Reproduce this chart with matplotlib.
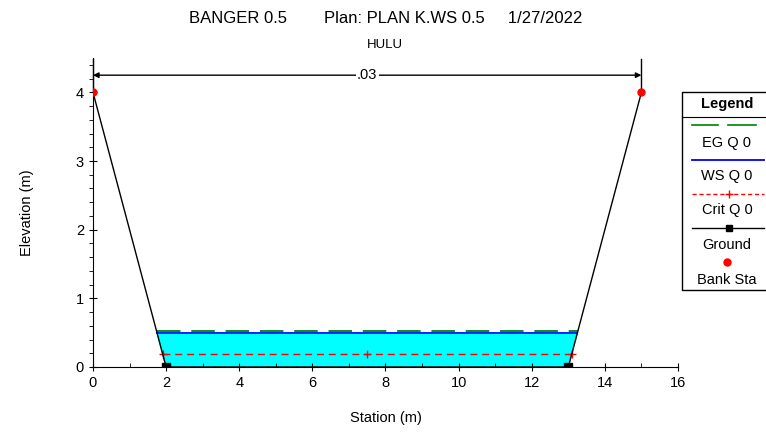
import matplotlib.pyplot as plt

plt.rcParams['font.family'] = ['Liberation Sans', 'DejaVu Sans']

# Cross-section data
ground_x = [0, 2, 13, 15]
ground_z = [4, 0, 0, 4]
bank_x = [0, 15]
bank_z = [4, 4]
ws_elev = 0.5
eg_elev = 0.52
crit_elev = 0.19
n_value = '.03'


def bank_station(z):
    # where a horizontal water level meets the side slopes
    left = ground_x[1] - (z - ground_z[1]) * (ground_x[1] - ground_x[0]) / (ground_z[0] - ground_z[1])
    right = ground_x[2] + (z - ground_z[2]) * (ground_x[3] - ground_x[2]) / (ground_z[3] - ground_z[2])
    return left, right


fig = plt.figure(figsize=(7.66, 4.32), dpi=100)
ax = fig.add_axes([0.1214, 0.1505, 0.7637, 0.7152])

# Water fill
wl, wr = bank_station(ws_elev)
ax.fill([wl, ground_x[1], ground_x[2], wr], [ws_elev, ground_z[1], ground_z[2], ws_elev],
        color='#00ffff', zorder=1)

# EG and WS lines
el, er = bank_station(eg_elev)
ax.plot([wl, wr], [ws_elev, ws_elev], color='#0000ff', lw=1.2, zorder=2)
ax.plot([el, er], [eg_elev, eg_elev], color='#008000', lw=1.3, dashes=(13, 6), zorder=3)

# Critical depth
cl, cr = bank_station(crit_elev)
ax.plot([cl, cr], [crit_elev, crit_elev], color='#ff0000', lw=1, dashes=(5, 3.5), zorder=3)
ax.plot([cl, (cl + cr) / 2, cr], [crit_elev] * 3, ls='none', marker='+', color='#ff0000',
        ms=6, mew=1, zorder=4)

# Ground
ax.plot(ground_x, ground_z, color='black', lw=1, zorder=4)
ax.plot(ground_x[1:3], ground_z[1:3], ls='none', marker='s', color='black', ms=6, zorder=5)
ax.plot(bank_x, bank_z, ls='none', marker='o', color='#ff0000', ms=5, zorder=6)

# Manning's n arrow
ax.plot([bank_x[0]] * 2, [4, 4.48], color='black', lw=1, clip_on=False)
ax.plot([bank_x[1]] * 2, [4, 4.48], color='black', lw=1, clip_on=False)
ax.annotate('', xy=(bank_x[0], 4.25), xytext=(bank_x[1], 4.25),
            arrowprops=dict(arrowstyle='<|-|>', color='black', lw=1, mutation_scale=8,
                            shrinkA=0, shrinkB=0))
ax.text((bank_x[0] + bank_x[1]) / 2, 4.25, n_value, ha='center', va='center', fontsize=10.5,
        bbox=dict(facecolor='white', edgecolor='none', pad=1))

ax.set_xlim(0, 16)
ax.set_ylim(0, 4.5)
ax.set_xticks(range(0, 17, 2))
ax.set_xticks(range(1, 16, 2), minor=True)
ax.set_yticks(range(0, 5))
ax.set_yticks([i * 0.2 for i in range(0, 23)], minor=True)
for s in ['top', 'right']:
    ax.spines[s].set_visible(False)
ax.tick_params(which='major', direction='inout', length=6, labelsize=10.5)
ax.tick_params(which='minor', direction='out', length=3)
ax.tick_params(axis='x', which='minor', direction='in')

ax.set_xlabel('Station (m)', fontsize=10.5, labelpad=15)
ax.set_ylabel('Elevation (m)', fontsize=10.5, labelpad=30)

fig.text(0.503, 0.958, 'BANGER 0.5        Plan: PLAN K.WS 0.5     1/27/2022',
         ha='center', va='center', fontsize=12)
fig.text(0.503, 0.895, 'HULU', ha='center', va='center', fontsize=9.5)

# Legend box drawn by hand (right side runs off the figure)
lg = fig.add_axes([0, 0, 1, 1], facecolor='none')
lg.set_xlim(0, 766)
lg.set_ylim(432, 0)
lg.axis('off')
lg.plot([800, 682, 682, 800], [92, 92, 290, 290], color='black', lw=1)
lg.plot([682, 766], [117, 117], color='black', lw=0.8)
lg.text(727, 104, 'Legend', ha='center', va='center', fontsize=10.5, fontweight='bold')
lg.plot([692, 718], [125, 125], color='#008000', lw=1.2)
lg.plot([728, 756], [125, 125], color='#008000', lw=1.2)
lg.text(727, 143, 'EG Q 0', ha='center', va='center', fontsize=10.5)
lg.plot([692, 764], [160, 160], color='#0000ff', lw=1.3)
lg.text(727, 176, 'WS Q 0', ha='center', va='center', fontsize=10.5)
lg.plot([692, 764], [194, 194], color='#ff0000', lw=1, dashes=(3, 2))
lg.plot([729], [194], marker='+', color='#ff0000', ms=6)
lg.text(727, 210, 'Crit Q 0', ha='center', va='center', fontsize=10.5)
lg.plot([692, 764], [228, 228], color='black', lw=1)
lg.plot([729], [228], marker='s', color='black', ms=5)
lg.text(727, 245, 'Ground', ha='center', va='center', fontsize=10.5)
lg.plot([727], [262], marker='o', color='#ff0000', ms=5)
lg.text(727, 280, 'Bank Sta', ha='center', va='center', fontsize=10.5)

fig.savefig('out.png', dpi=100)
